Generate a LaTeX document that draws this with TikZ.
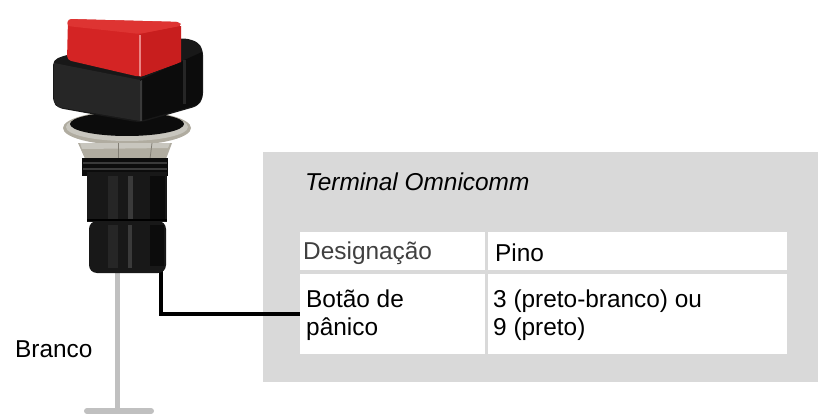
\documentclass[tikz,border=0pt]{standalone}
\usepackage{fontspec}
\setmainfont{Liberation Sans}
\definecolor{boxgray}{RGB}{217,217,217}
\definecolor{wiregray}{RGB}{192,192,192}
\definecolor{desig}{RGB}{64,64,64}
\definecolor{redfront}{RGB}{212,36,36}
\definecolor{redtop}{RGB}{222,52,50}
\definecolor{redside}{RGB}{200,30,30}
\definecolor{blk1}{RGB}{12,12,12}
\definecolor{blk2}{RGB}{24,24,24}
\definecolor{blk3}{RGB}{38,38,38}
\definecolor{blk4}{RGB}{58,58,58}
\definecolor{silver}{RGB}{176,172,160}
\definecolor{silverlt}{RGB}{200,198,190}
\definecolor{silverdk}{RGB}{130,126,116}
\begin{document}
\begin{tikzpicture}[x=1pt,y=-1pt,
  txt/.style={anchor=base west, inner sep=0pt, font=\fontsize{24.4}{28}\selectfont},
  cell/.style={fill=white, anchor=north west, inner sep=0pt, draw=none},
  wire/.style={line width=3.5pt, black},
  graywire/.style={line width=5pt, wiregray},
]
\useasboundingbox (0,0) rectangle (823,420);
\fill[white] (0,0) rectangle (823,420);

% panel and table
\node[fill=boxgray, anchor=north west, minimum width=555pt, minimum height=230pt, inner sep=0pt] (panel) at (263,152) {};
\node[cell, minimum width=185pt, minimum height=38pt] (h1) at (300,232) {};
\node[cell, minimum width=299pt, minimum height=38pt] (h2) at (488,232) {};
\node[cell, minimum width=185pt, minimum height=80pt] (r1) at (300,274) {};
\node[cell, minimum width=299pt, minimum height=80pt] (r2) at (488,274) {};

\node[txt, font=\fontsize{24.4}{28}\selectfont\itshape] (title) at (305,190) {Terminal Omnicomm};
\node[txt, text=desig] (t11) at (303,259) {Designação};
\node[txt] (t12) at (495,261) {Pino};
\node[txt] (t21a) at (306,307) {Botão de};
\node[txt] (t21b) at (306,335) {pânico};
\node[txt] (t22a) at (493,307) {3 (preto-branco) ou};
\node[txt] (t22b) at (493,335) {9 (preto)};
\node[txt] (branco) at (15,357) {Branco};

% gray wire (Branco)
\coordinate (gtop) at (117,268);
\coordinate (gbot) at (117,411);
\coordinate (gl) at (87,411);
\coordinate (gr) at (151,411);
\draw[graywire] (gtop) -- (gbot);
\draw[graywire, line width=6pt, line cap=round] (gl) -- (gr);

% black wire
\coordinate (pin) at (161,268);
\draw[wire] (pin) |- (r1.west);

% ---- push button ----
% washer ring
\fill[silver] (127,128) ellipse [x radius=64, y radius=17];
\fill[silverlt] (127,127) ellipse [x radius=61, y radius=14];
\fill[blk1] (127,124) ellipse [x radius=57, y radius=12];
% bezel
\fill[blk2, rounded corners=5pt] (53,60) -- (66,55) -- (185,38) -- (198,42) -- (203,50) -- (203,98) -- (198,106) -- (142,122) -- (136,122) -- (58,108) -- (53,102) -- cycle;
\fill[blk3] (54,63) -- (140,80) -- (140,121) -- (58,107) -- (54,101) -- cycle;
\fill[blk1] (140,80) -- (202,52) -- (202,98) -- (197,105) -- (140,121) -- cycle;
\fill[blk4] (140,81) -- (142,80) -- (142,121) -- (140,121) -- cycle;
\fill[blk3] (183,60) rectangle (186,104);
% red cap
\fill[redfront, rounded corners=4pt] (68,19) -- (180,22) -- (181,62) -- (140,77) -- (67,60) -- cycle;
\fill[redtop, rounded corners=3pt] (68,19) -- (180,22) -- (181,26) -- (140,34) -- (67,26) -- cycle;
\fill[redside] (140,34) -- (181,26) -- (181,62) -- (140,77) -- cycle;
\fill[redtop!60!white] (139,35) -- (141,35) -- (141,76) -- (139,76) -- cycle;
% nut
\fill[silver] (78,143) -- (172,143) -- (166,159) -- (86,161) -- cycle;
\fill[silverlt] (80,143) -- (170,143) -- (168,148) -- (82,149) -- cycle;
\draw[silverdk, line width=0.8pt] (118,143) -- (118,160);
\draw[silverdk, line width=0.8pt] (152,143) -- (150,159);
% threads
\fill[blk1] (82,158) rectangle (168,176);
\draw[blk4, line width=1.5pt] (83,163) -- (167,163);
\draw[blk4, line width=1.5pt] (83,169) -- (167,169);
% cylinder upper
\fill[blk2] (87,172) rectangle (167,222);
\fill[blk3] (108,176) rectangle (118,220);
\fill[blk4] (128,176) rectangle (133,220);
\fill[blk1] (150,176) rectangle (165,220);
% groove
\draw[black, line width=2pt] (87,220) -- (167,220);
% cylinder lower
\fill[blk2, rounded corners=8pt] (89,221) -- (166,221) -- (166,273) -- (89,273) -- cycle;
\fill[blk3] (108,225) rectangle (118,268);
\fill[blk4] (128,225) rectangle (132,268);
\fill[blk1] (150,225) rectangle (164,266);
\end{tikzpicture}
\end{document}
